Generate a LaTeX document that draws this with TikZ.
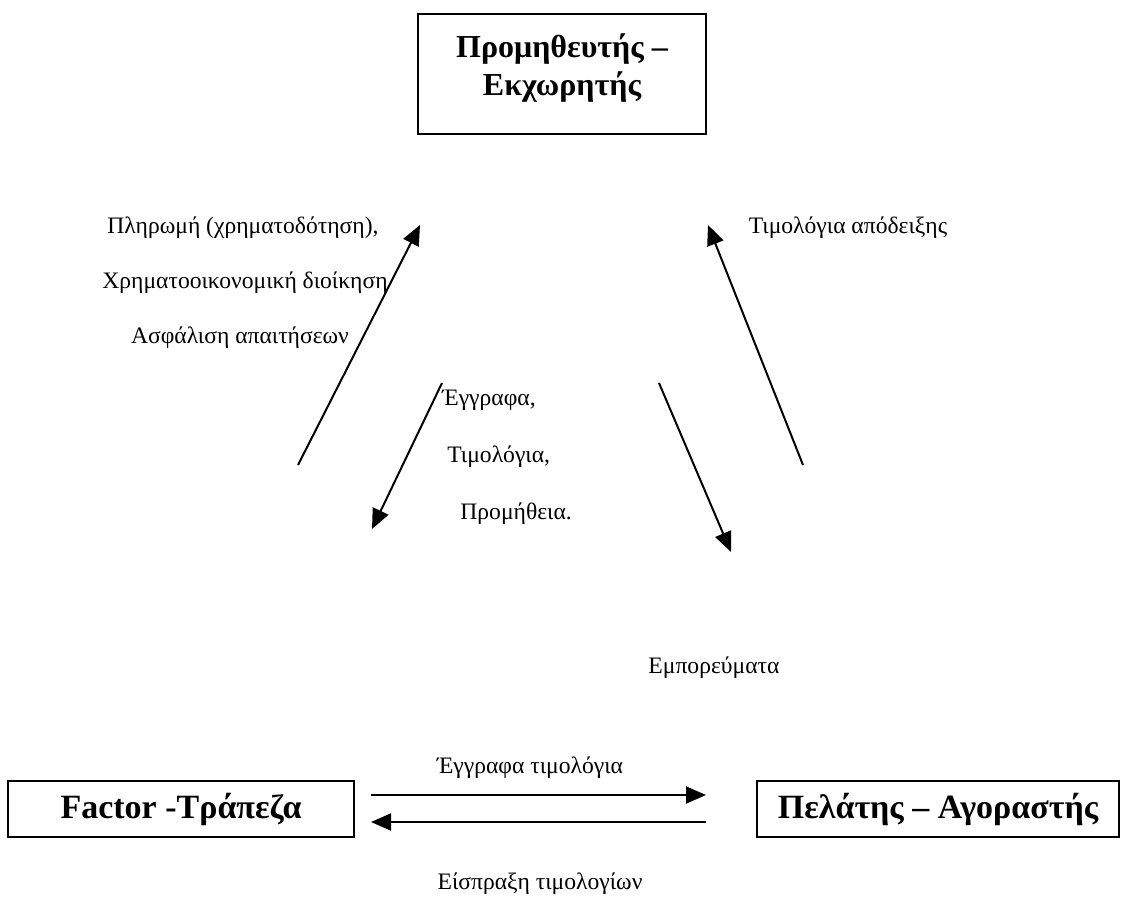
\documentclass[tikz,border=0pt]{standalone}
\usepackage{fontspec}
\setmainfont{Liberation Serif}
\usetikzlibrary{arrows.meta}

\tikzset{
  party/.style={draw, line width=1pt, align=center, inner sep=0pt,
    font=\fontsize{16}{19}\selectfont\bfseries},
  lbl/.style={inner sep=0pt, font=\fontsize{11.8}{14}\selectfont},
  flow/.style={-{Triangle[length=10pt,width=8.5pt]}, line width=1pt}
}

\begin{document}
\begin{tikzpicture}[x=0.5pt,y=-0.5pt]
\useasboundingbox (0,0) rectangle (1126,911);

\node[party, minimum width=144pt, minimum height=60pt] (sup) at (562,74) {Προμηθευτής –\\Εκχωρητής\\[-10pt]\mbox{}};
\node[party, minimum width=173pt, minimum height=28pt, font=\fontsize{17}{20}\selectfont\bfseries] (fac) at (181,809) {Factor -Τράπεζα};
\node[party, minimum width=181pt, minimum height=28pt, font=\fontsize{17}{20}\selectfont\bfseries] (buy) at (938,809) {Πελάτης – Αγοραστής};

\node[lbl] (pay) at (243,228) {Πληρωμή (χρηματοδότηση),};
\node[lbl] (fin) at (245,283) {Χρηματοοικονομική διοίκηση};
\node[lbl] (ins) at (240,338) {Ασφάλιση απαιτήσεων};
\node[lbl] (rcp) at (848,228) {Τιμολόγια απόδειξης};
\node[lbl, anchor=west] (docs) at (442,400) {Έγγραφα,};
\node[lbl, anchor=west] (inv) at (447,457) {Τιμολόγια,};
\node[lbl, anchor=west] (fee) at (460,514) {Προμήθεια.};
\node[lbl] (goods) at (714,668) {Εμπορεύματα};
\node[lbl] (sent) at (530,768) {Έγγραφα τιμολόγια};
\node[lbl] (coll) at (540,884) {Είσπραξη τιμολογίων};

\coordinate (a1) at (298,465);
\coordinate (a2) at (420,225);
\coordinate (b1) at (442,383);
\coordinate (b2) at (372,529);
\coordinate (c1) at (659,383);
\coordinate (c2) at (731,552);
\coordinate (d1) at (803,465);
\coordinate (d2) at (708,225);
\coordinate (e1) at (371,795);
\coordinate (e2) at (706,795);
\coordinate (f1) at (706,822);
\coordinate (f2) at (371,822);

\draw[flow] (a1) -- (a2);
\draw[flow] (b1) -- (b2);
\draw[flow] (c1) -- (c2);
\draw[flow] (d1) -- (d2);
\draw[flow] (e1) -- (e2);
\draw[flow] (f1) -- (f2);

\end{tikzpicture}
\end{document}
